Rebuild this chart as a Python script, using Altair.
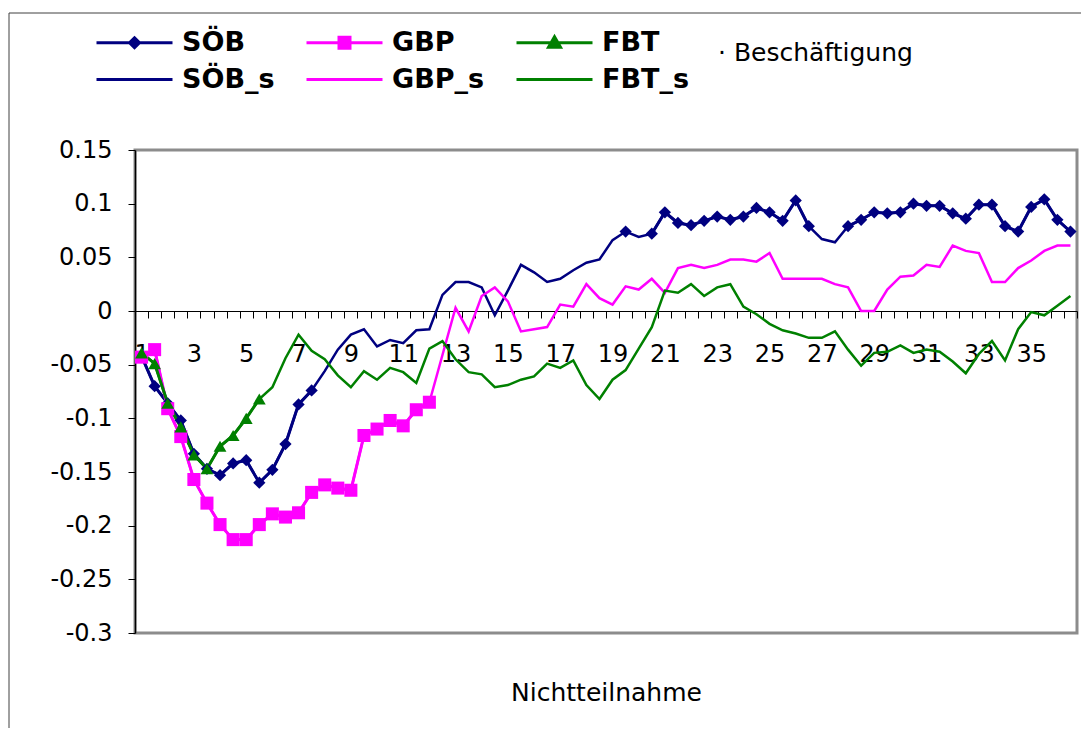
import altair as alt
import pandas as pd

NAVY = "#000080"
MAGENTA = "#FF00FF"
GREEN = "#008000"
FONT = "DejaVu Sans"

GROUPS = ["SÖB", "GBP", "FBT"]
GROUP_COLORS = [NAVY, MAGENTA, GREEN]

# 72 half-steps of "Nichtteilnahme": 1, 1.5, 2, ... 36.5
PERIODS = [1 + 0.5 * i for i in range(72)]
X_LABELS = [1, 3, 5, 7, 9, 11, 13, 15, 17, 19, 21, 23, 25, 27, 29, 31, 33, 35]
Y_TICKS = [-0.3, -0.25, -0.2, -0.15, -0.1, -0.05, 0, 0.05, 0.1, 0.15]

SOEB = [-0.042, -0.070, -0.086, -0.102, -0.133, -0.147, -0.153, -0.142, -0.139, -0.160,
        -0.148, -0.124, -0.087, -0.074, -0.056, -0.036, -0.022, -0.017, -0.033, -0.027,
        -0.030, -0.018, -0.017, 0.015, 0.027, 0.027, 0.022, -0.004, 0.019, 0.043,
        0.036, 0.027, 0.030, 0.038, 0.045, 0.048, 0.066, 0.074, 0.069, 0.072,
        0.092, 0.082, 0.080, 0.084, 0.088, 0.085, 0.088, 0.096, 0.092, 0.084,
        0.103, 0.079, 0.067, 0.064, 0.079, 0.085, 0.092, 0.091, 0.092, 0.100,
        0.098, 0.098, 0.091, 0.086, 0.099, 0.099, 0.079, 0.074, 0.097, 0.104,
        0.085, 0.074]

GBP = [-0.043, -0.036, -0.091, -0.117, -0.157, -0.179, -0.199, -0.213, -0.213, -0.199,
       -0.189, -0.192, -0.188, -0.169, -0.162, -0.165, -0.167, -0.116, -0.110, -0.102,
       -0.107, -0.092, -0.085, -0.041, 0.003, -0.019, 0.014, 0.022, 0.009, -0.019,
       -0.017, -0.015, 0.006, 0.004, 0.025, 0.012, 0.006, 0.023, 0.020, 0.030,
       0.017, 0.040, 0.043, 0.040, 0.043, 0.048, 0.048, 0.046, 0.054, 0.030,
       0.030, 0.030, 0.030, 0.025, 0.022, 0.000, 0.000, 0.020, 0.032, 0.033,
       0.043, 0.041, 0.061, 0.056, 0.054, 0.027, 0.027, 0.040, 0.047, 0.056,
       0.061, 0.061]

FBT = [-0.039, -0.049, -0.086, -0.108, -0.134, -0.147, -0.126, -0.116, -0.100, -0.082,
       -0.071, -0.044, -0.022, -0.037, -0.045, -0.060, -0.071, -0.056, -0.064, -0.053,
       -0.057, -0.067, -0.035, -0.028, -0.045, -0.057, -0.059, -0.071, -0.069, -0.064,
       -0.061, -0.049, -0.053, -0.046, -0.069, -0.082, -0.064, -0.055, -0.035, -0.015,
       0.019, 0.017, 0.025, 0.014, 0.022, 0.025, 0.004, -0.003, -0.012, -0.018,
       -0.021, -0.025, -0.025, -0.019, -0.036, -0.051, -0.039, -0.038, -0.032, -0.039,
       -0.036, -0.038, -0.047, -0.058, -0.040, -0.028, -0.046, -0.017, -0.001, -0.004,
       0.005, 0.014]

# index runs (0-based) where the marked series (SÖB, GBP, FBT) is shown
SOEB_MARKED = [(0, 13), (37, 37), (39, 51), (54, 71)]
GBP_MARKED = [(0, 22)]
FBT_MARKED = [(0, 9)]

# legend entries, listed column by column (2 rows x 3 columns)
LEGEND_NAMES = ["SÖB", "SÖB_s", "GBP", "GBP_s", "FBT", "FBT_s"]
LEGEND_COLORS = [NAVY, NAVY, MAGENTA, MAGENTA, GREEN, GREEN]
LINE_PATH = "M-3.8,0H3.8"
LEGEND_SHAPES = [
    LINE_PATH + "M0,-0.5L0.5,0L0,0.5L-0.5,0Z",
    LINE_PATH,
    LINE_PATH + "M-0.55,-0.55H0.55V0.55H-0.55Z",
    LINE_PATH,
    LINE_PATH + "M0,-0.6L0.6,0.45H-0.6Z",
    LINE_PATH,
]

series_vals = [SOEB, GBP, FBT]
runs_all = [SOEB_MARKED, GBP_MARKED, FBT_MARKED]

rows = []
for g, vals in zip(GROUPS, series_vals):
    for t, v in zip(PERIODS, vals):
        rows.append({"t": t, "value": v, "group": g})
lines_df = pd.DataFrame(rows)

mrows = []
for g, vals, runs in zip(GROUPS, series_vals, runs_all):
    for k, (a, b) in enumerate(runs):
        for i in range(a, b + 1):
            mrows.append({"t": PERIODS[i], "value": vals[i], "group": g, "seg": f"{g}-{k}"})
marks_df = pd.DataFrame(mrows)

boundaries = [PERIODS[0] - 0.25 + 0.5 * k for k in range(73)]
x_values = sorted(boundaries + X_LABELS)

x_enc = alt.X(
    "t:Q",
    scale=alt.Scale(domain=[boundaries[0], boundaries[-1]], nice=False, zero=False),
    axis=alt.Axis(
        values=x_values, offset=-322, grid=False,
        tickSize=7, tickColor="black", tickWidth=1,
        tickOpacity={"condition": {"test": "datum.value % 2 == 1", "value": 0}, "value": 1},
        labelExpr="datum.value % 2 == 1 ? format(datum.value, 'd') : ''",
        labelOverlap=False, labelFlush=False,
        labelFont=FONT, labelFontSize=24, labelColor="black", labelPadding=24,
        domainColor="black", domainWidth=1,
        title="Nichtteilnahme", titleFont=FONT, titleFontSize=25, titleFontWeight="normal",
        titleColor="black", titleY=389, titleBaseline="alphabetic",
    ),
)
y_enc = alt.Y(
    "value:Q",
    scale=alt.Scale(domain=[-0.3, 0.15], nice=False, zero=False),
    axis=alt.Axis(
        values=Y_TICKS, grid=False, title=None,
        tickSize=7, tickColor="black", tickWidth=1,
        domainColor="black", domainWidth=1.5,
        labelExpr="replace(format(datum.value, '.2~f'), '\u2212', '-')",
        labelFont=FONT, labelFontSize=24, labelColor="black", labelPadding=16,
    ),
)
color_enc = alt.Color("group:N", scale=alt.Scale(domain=GROUPS, range=GROUP_COLORS), legend=None)

frame = alt.Chart(alt.Data(values=[{"a": 1}])).mark_rect(
    fillOpacity=0, stroke="#404040", strokeWidth=1
).encode(x=alt.value(-126), x2=alt.value(1100), y=alt.value(-137), y2=alt.value(800))

s_lines = alt.Chart(lines_df).mark_line(strokeWidth=2.5).encode(
    x=x_enc, y=y_enc, color=color_enc, order="t:Q"
)
m_lines = alt.Chart(marks_df).mark_line(strokeWidth=3).encode(
    x=x_enc, y=y_enc, color=color_enc, detail="seg:N", order="t:Q"
)

def pts(group, shape, size):
    return alt.Chart(marks_df).transform_filter(alt.datum.group == group).mark_point(
        filled=True, shape=shape, size=size, opacity=1
    ).encode(x=x_enc, y=y_enc, color=color_enc)

p1 = pts("SÖB", "diamond", 150)
p2 = pts("GBP", "square", 170)
p3 = pts("FBT", "triangle-up", 165)

leg = alt.Legend(
    title="\u00b7 Beschäftigung", orient="none", legendX=-14, legendY=-121,
    columns=3, columnPadding=25, rowPadding=9, padding=0,
    symbolSize=400, symbolStrokeWidth=3, symbolOpacity=1,
    labelFont=FONT, labelFontSize=27, labelFontWeight="bold", labelColor="black",
    labelOffset=34, labelLimit=400,
    titleFont=FONT, titleFontSize=25, titleFontWeight="normal", titleColor="black",
    titleOrient="right", titleAnchor="middle", titleBaseline="alphabetic",
    titlePadding=29, titleLimit=500,
)
leg_df = pd.DataFrame({"series": LEGEND_NAMES})
legend_layer = alt.Chart(leg_df).mark_point(filled=True).encode(
    x=alt.value(0), y=alt.value(0), opacity=alt.value(0),
    fill=alt.Fill("series:N", scale=alt.Scale(domain=LEGEND_NAMES, range=LEGEND_COLORS), legend=leg),
    stroke=alt.Stroke("series:N", scale=alt.Scale(domain=LEGEND_NAMES, range=LEGEND_COLORS), legend=leg),
    shape=alt.Shape("series:N", scale=alt.Scale(domain=LEGEND_NAMES, range=LEGEND_SHAPES), legend=leg),
)

chart = alt.layer(frame, s_lines, m_lines, p1, p2, p3, legend_layer).properties(
    width=942, height=483,
    padding={"left": 127, "top": 142, "right": 4, "bottom": 95},
    autosize=alt.AutoSizeParams(type="none"),
    background="white",
).configure_view(stroke="#8c8c8c", strokeWidth=3)

chart.save("out.html", embed_options={"renderer": "svg", "actions": False})
